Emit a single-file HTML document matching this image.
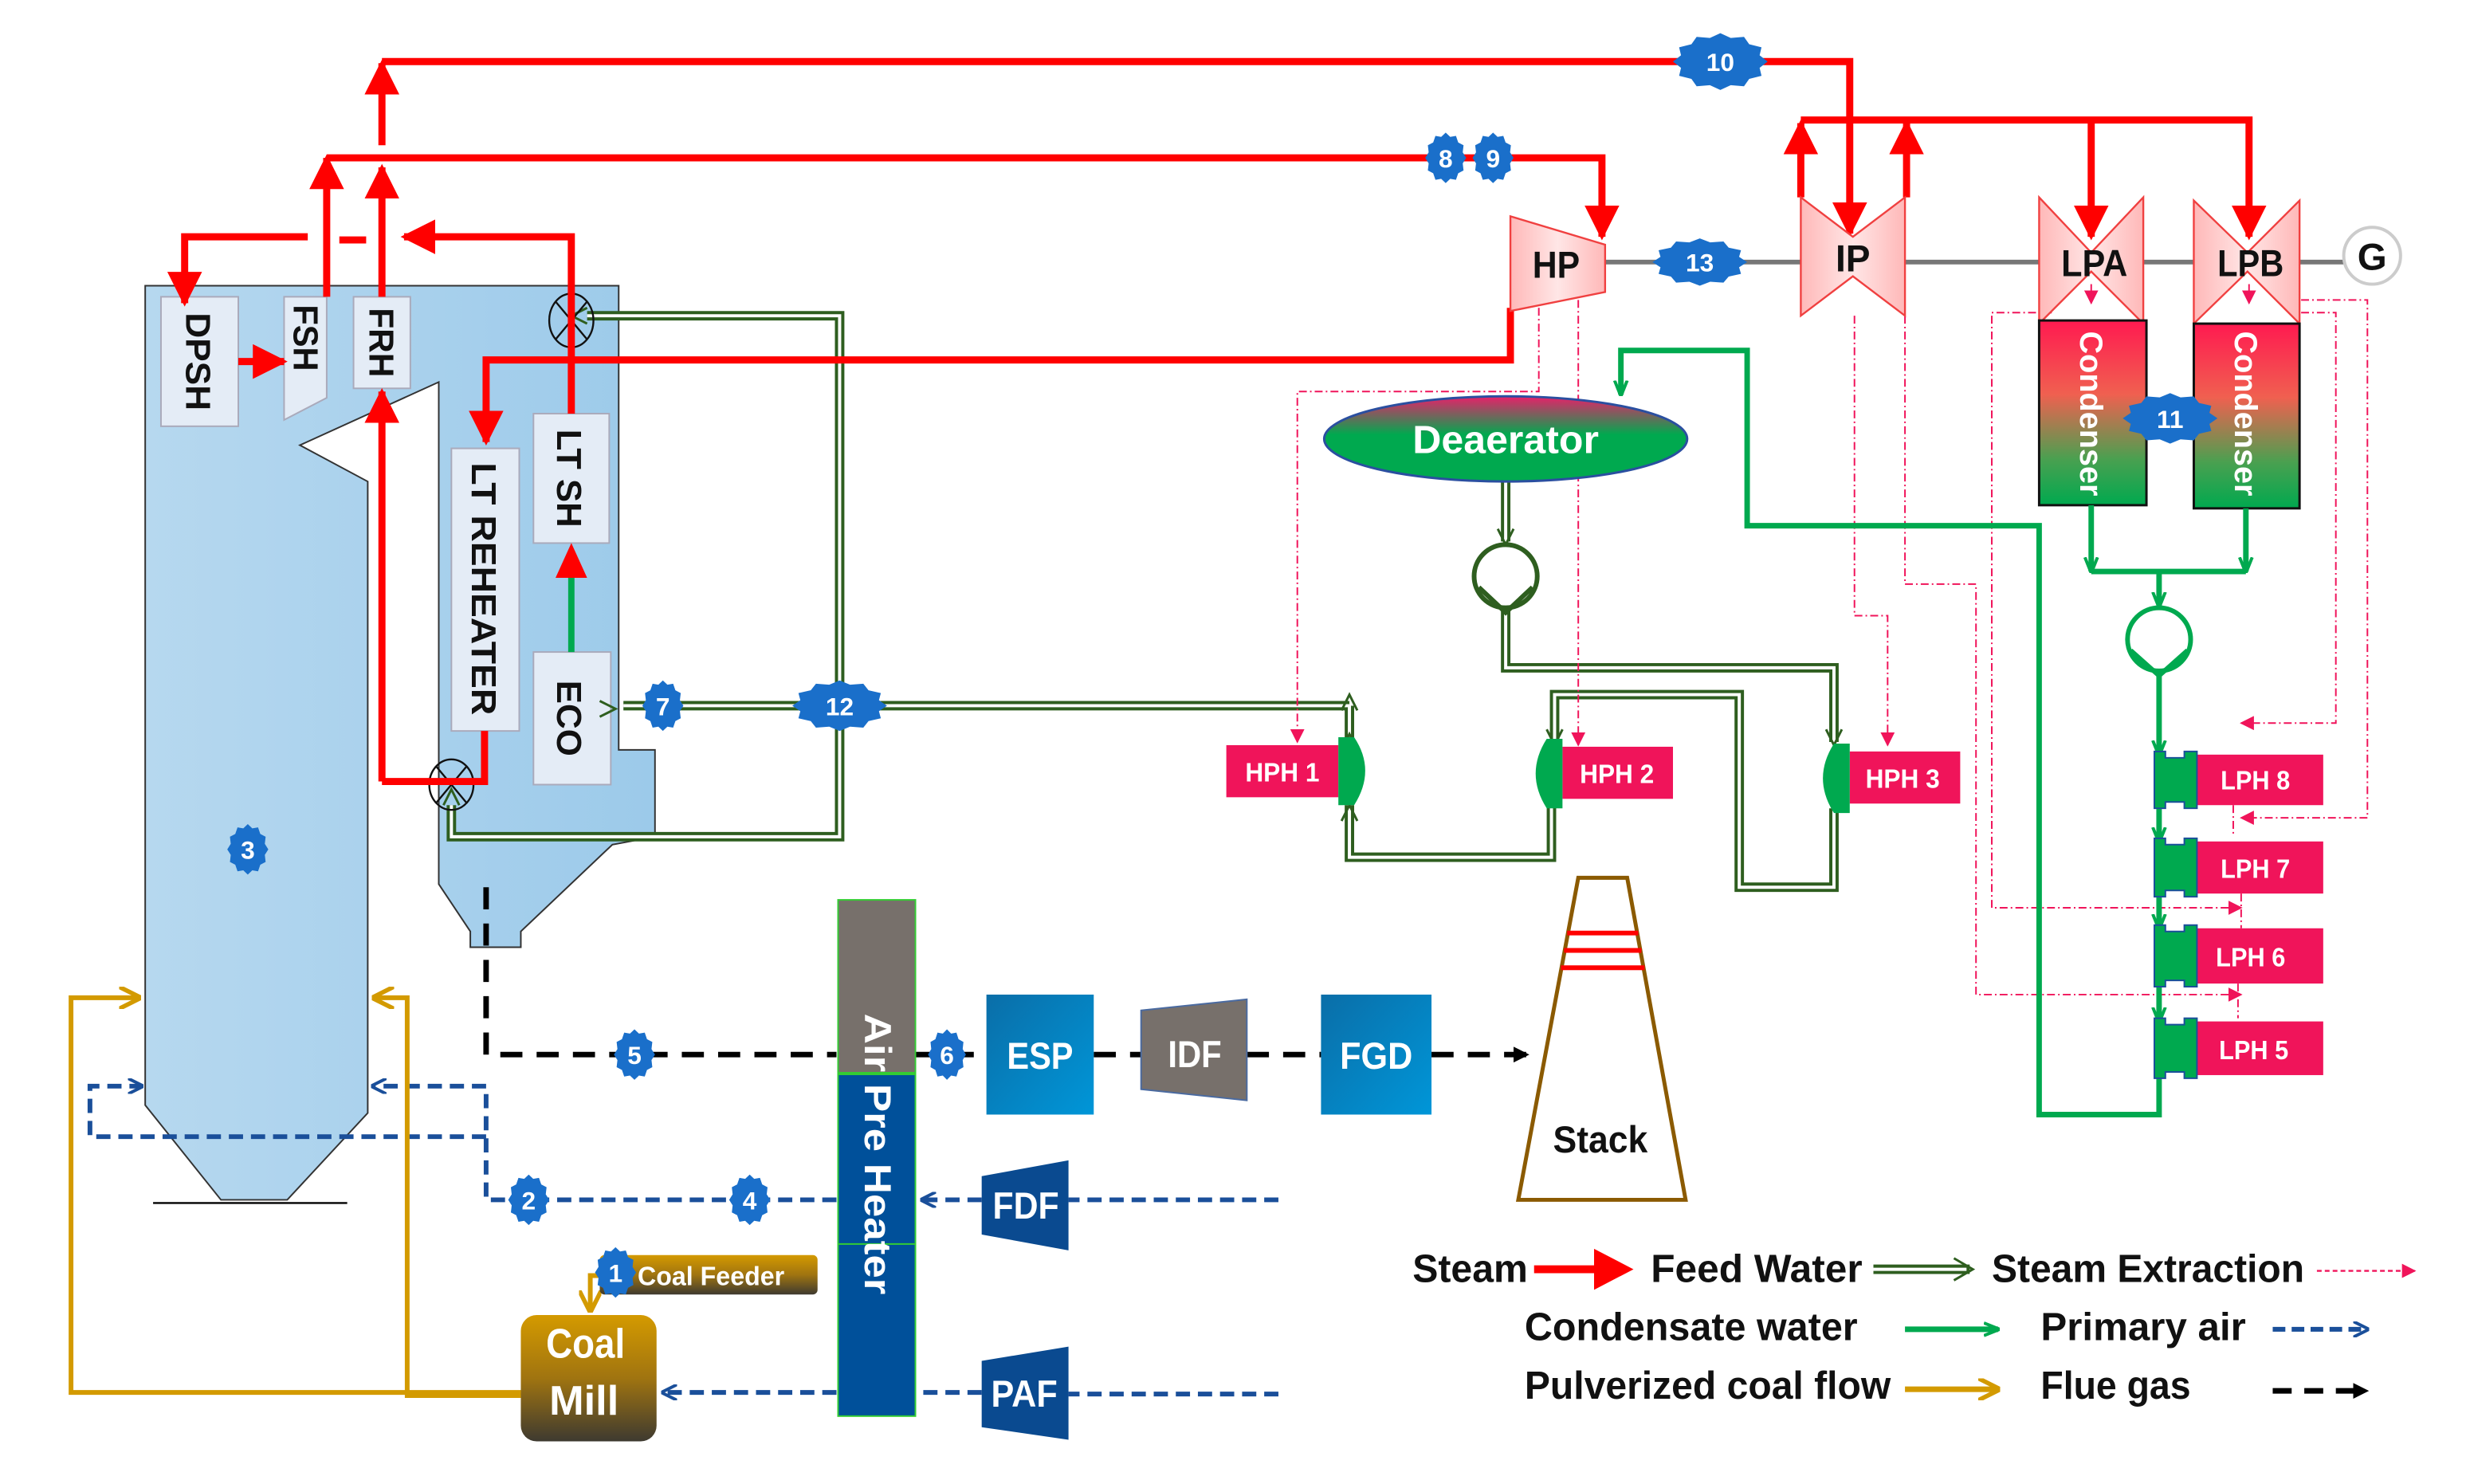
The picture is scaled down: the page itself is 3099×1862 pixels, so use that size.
<!DOCTYPE html>
<html><head><meta charset="utf-8"><style>
html,body{margin:0;padding:0;background:#fff}
svg{display:block}
text{font-family:"Liberation Sans Narrow","Liberation Sans",sans-serif;font-weight:bold}
</style></head><body>
<svg width="3099" height="1862" viewBox="0 0 1565 940" preserveAspectRatio="none" xmlns="http://www.w3.org/2000/svg">
<defs>
<linearGradient id="blue" x1="0" x2="1" y1="0" y2="0"><stop offset="0" stop-color="#b6d8ef"/><stop offset="1" stop-color="#9ccaea"/></linearGradient>
<linearGradient id="cond" x1="0" x2="0" y1="0" y2="1"><stop offset="0" stop-color="#ff1a50"/><stop offset="0.4" stop-color="#f06050"/><stop offset="0.75" stop-color="#4aa050"/><stop offset="1" stop-color="#00a94f"/></linearGradient>
<linearGradient id="dea" x1="0" x2="0" y1="0" y2="1"><stop offset="0" stop-color="#e8206a"/><stop offset="0.45" stop-color="#00a94f"/><stop offset="1" stop-color="#00a94f"/></linearGradient>
<linearGradient id="turb" x1="0" x2="1" y1="0" y2="0"><stop offset="0" stop-color="#ffb8b8"/><stop offset="0.5" stop-color="#ffe6e6"/><stop offset="1" stop-color="#ffb8b8"/></linearGradient>
<linearGradient id="esp" x1="0" x2="1" y1="0" y2="1"><stop offset="0" stop-color="#0a6ea8"/><stop offset="1" stop-color="#0096d8"/></linearGradient>
<linearGradient id="mill" x1="0" x2="0" y1="0" y2="1"><stop offset="0" stop-color="#d49a00"/><stop offset="0.5" stop-color="#a07410"/><stop offset="1" stop-color="#3e3a30"/></linearGradient>
<marker id="ar" viewBox="0 0 10 10" refX="9" refY="5" markerWidth="22" markerHeight="22" markerUnits="userSpaceOnUse" orient="auto"><path d="M0,0 L10,5 L0,10 z" fill="#f00"/></marker>
<marker id="ag" viewBox="0 0 10 10" refX="9" refY="5" markerWidth="10" markerHeight="10" markerUnits="userSpaceOnUse" orient="auto"><path d="M0,1 L10,5 L0,9" fill="none" stroke="#00a94f" stroke-width="2"/></marker>
<marker id="ap" viewBox="0 0 10 10" refX="9" refY="5" markerWidth="9" markerHeight="9" markerUnits="userSpaceOnUse" orient="auto"><path d="M0,0 L10,5 L0,10 z" fill="#f0145a"/></marker>
<marker id="ab" viewBox="0 0 10 10" refX="9" refY="5" markerWidth="10" markerHeight="10" markerUnits="userSpaceOnUse" orient="auto"><path d="M0,0 L10,5 L0,10" fill="none" stroke="#1a4f9a" stroke-width="2"/></marker>
<marker id="ak" viewBox="0 0 10 10" refX="9" refY="5" markerWidth="10" markerHeight="10" markerUnits="userSpaceOnUse" orient="auto"><path d="M0,0 L10,5 L0,10 z" fill="#000"/></marker>
<marker id="ay" viewBox="0 0 10 10" refX="9" refY="5" markerWidth="14" markerHeight="14" markerUnits="userSpaceOnUse" orient="auto"><path d="M0,0 L10,5 L0,10" fill="none" stroke="#d39a00" stroke-width="2"/></marker>
<polygon id="st" points="100,0 83,22 87,50 61,61 50,87 22,83 0,100 -22,83 -50,87 -61,61 -87,50 -83,22 -100,0 -83,-22 -87,-50 -61,-61 -50,-87 -22,-83 0,-100 22,-83 50,-87 61,-61 87,-50 83,-22" fill="#1a6fca"/>
</defs>

<!-- Boiler -->
<path d="M92,181 H392 V475 H415 V530 L388,535 L330,590 V600 H298 V590 L278,560 V242 L190,282 L233,305 V705 L182,760 H140 L92,700 Z" fill="url(#blue)" stroke="#333" stroke-width="1"/>
<line x1="97" y1="762" x2="220" y2="762" stroke="#000" stroke-width="1.2"/>
<g fill="#e4ecf6" stroke="#aab" stroke-width="1">
<rect x="102" y="188" width="49" height="82"/>
<path d="M180,188 H207 V252 L180,266 Z"/>
<rect x="224" y="188" width="36" height="58"/>
<rect x="338" y="262" width="48" height="82"/>
<rect x="286" y="284" width="43" height="179"/>
<rect x="338" y="413" width="49" height="84"/>
</g>
<g font-size="22" fill="#111" lengthAdjust="spacingAndGlyphs">
<text transform="translate(118,229) rotate(90)" text-anchor="middle" textLength="62" lengthAdjust="spacingAndGlyphs">DPSH</text>
<text transform="translate(186,214) rotate(90)" text-anchor="middle" textLength="42" lengthAdjust="spacingAndGlyphs">FSH</text>
<text transform="translate(234,217) rotate(90)" text-anchor="middle" textLength="44" lengthAdjust="spacingAndGlyphs">FRH</text>
<text transform="translate(353,303) rotate(90)" text-anchor="middle" textLength="62" lengthAdjust="spacingAndGlyphs">LT SH</text>
<text transform="translate(299,373) rotate(90)" text-anchor="middle" textLength="160" lengthAdjust="spacingAndGlyphs">LT REHEATER</text>
<text transform="translate(353,455) rotate(90)" text-anchor="middle" textLength="48" lengthAdjust="spacingAndGlyphs">ECO</text>
</g>

<!-- Feed water double lines -->
<g fill="none" stroke-linejoin="miter">
<g stroke="#2e5e1f" stroke-width="6">
<path d="M855,447 H532 V200 H372"/><path d="M532,447 V530 H286 V510"/><path d="M532,447 H395"/>
<path d="M855,447 V470"/><path d="M855,510 V543 H983 V510"/>
<path d="M954,305 V343"/><path d="M954,387 V423 H1162 V470"/>
<path d="M985,470 V440 H1102 V562 H1162 V512"/>
</g>
<g stroke="#fff" stroke-width="2">
<path d="M855,447 H532 V200 H372"/><path d="M532,447 V530 H286 V510"/><path d="M532,447 H395"/>
<path d="M855,447 V470"/><path d="M855,510 V543 H983 V510"/>
<path d="M954,305 V343"/><path d="M954,387 V423 H1162 V470"/>
<path d="M985,470 V440 H1102 V562 H1162 V512"/>
</g>
<g stroke="#2e5e1f" stroke-width="1.5">
<path d="M380,444 L390,449 L380,454"/><path d="M372,195 L362,200 L372,205"/>
<path d="M281,510 L286,500 L291,510"/><path d="M850,450 L855,440 L860,450"/>
<path d="M850,475 L855,465 L860,475"/><path d="M850,520 L855,510 L860,520"/>
<path d="M949,335 L954,345 L959,335"/><path d="M1157,462 L1162,472 L1167,462"/>
<path d="M980,462 L985,472 L990,462"/>
</g>
</g>

<!-- Valves -->
<g fill="none" stroke="#111" stroke-width="1.2">
<ellipse cx="362" cy="203" rx="14" ry="17"/><path d="M352,191 L372,215 M372,191 L352,215"/>
<ellipse cx="286" cy="497" rx="14" ry="16"/><path d="M276,485 L296,509 M296,485 L276,509"/>
</g>

<!-- Steam red lines -->
<g fill="none" stroke="#f00" stroke-width="4.5">
<path d="M151,229 H180" marker-end="url(#ar)"/>
<path d="M207,188 V100" marker-end="url(#ar)"/>
<path d="M207,100 H1015 V150" marker-end="url(#ar)"/>
<path d="M242,188 V106" marker-end="url(#ar)"/>
<path d="M242,92 V40" marker-end="url(#ar)"/>
<path d="M242,39 H1172 V148" marker-end="url(#ar)"/>
<path d="M195,150 H117 V192" marker-end="url(#ar)"/>
<path d="M215,152 H232"/>
<path d="M362,262 V150 H256" marker-end="url(#ar)"/>
<path d="M242,495 V248" marker-end="url(#ar)"/>
<path d="M242,495 H307 V463"/>
<path d="M957,195 V228 H308 V280" marker-end="url(#ar)"/>
<path d="M1141,125 V78" marker-end="url(#ar)"/>
<path d="M1208,125 V78" marker-end="url(#ar)"/>
<path d="M1141,76 H1425 V150" marker-end="url(#ar)"/>
<path d="M1325,76 V150" marker-end="url(#ar)"/>
</g>
<line x1="362" y1="413" x2="362" y2="362" stroke="#00a94f" stroke-width="4"/>
<path d="M352,366 L362,344 L372,366 Z" fill="#f00"/>

<!-- Steam extraction -->
<g fill="none" stroke="#f0145a" stroke-width="1" stroke-dasharray="5,2,1,2">
<path d="M975,195 V248 H822 V470" marker-end="url(#ap)"/>
<path d="M1000,190 V472" marker-end="url(#ap)"/>
<path d="M1175,200 V390 H1196 V472" marker-end="url(#ap)"/>
<path d="M1207,200 V370 H1252 V630 H1420" marker-end="url(#ap)"/>
<path d="M1300,198 H1262 V575 H1420" marker-end="url(#ap)"/>
<path d="M1458,198 H1480 V458 H1420" marker-end="url(#ap)"/>
<path d="M1458,190 H1500 V518 H1420" marker-end="url(#ap)"/>
<path d="M1325,180 V192" marker-end="url(#ap)"/>
<path d="M1425,180 V192" marker-end="url(#ap)"/>
<path d="M1415,510 V530"/><path d="M1420,566 V588"/><path d="M1418,623 V645"/>
</g>

<!-- Shaft & turbines -->
<line x1="1017" y1="166" x2="1490" y2="166" stroke="#777" stroke-width="3"/>
<g fill="url(#turb)" stroke="#f04040" stroke-width="1.2">
<path d="M957,137 L1017,155 V185 L957,197 Z"/>
<path d="M1141,125 L1174,150 L1207,125 V200 L1174,175 L1141,200 Z"/>
<path d="M1292,125 L1325,160 L1358,125 V205 L1325,172 L1292,205 Z"/>
<path d="M1390,127 L1424,160 L1457,127 V205 L1424,172 L1390,205 Z"/>
</g>
<g font-size="24" fill="#111" text-anchor="middle">
<text x="986" y="176" textLength="30" lengthAdjust="spacingAndGlyphs">HP</text><text x="1174" y="172" textLength="22" lengthAdjust="spacingAndGlyphs">IP</text>
<text x="1327" y="175" textLength="42" lengthAdjust="spacingAndGlyphs">LPA</text><text x="1426" y="175" textLength="42" lengthAdjust="spacingAndGlyphs">LPB</text>
</g>
<circle cx="1503" cy="162" r="18" fill="#fff" stroke="#ccc" stroke-width="2"/>
<text x="1503" y="171" font-size="24" text-anchor="middle" fill="#111">G</text>

<!-- Condensers -->
<rect x="1292" y="203" width="68" height="117" fill="url(#cond)" stroke="#111" stroke-width="1.5"/>
<rect x="1390" y="205" width="67" height="117" fill="url(#cond)" stroke="#111" stroke-width="1.5"/>
<g font-size="20" fill="#fff" font-family="Liberation Sans" text-anchor="middle">
<text transform="translate(1318,262) rotate(90)">Condenser</text>
<text transform="translate(1416,262) rotate(90)">Condenser</text>
</g>

<!-- Condensate -->
<g fill="none" stroke="#00a94f" stroke-width="3.5">
<path d="M1325,320 V362" marker-end="url(#ag)"/><path d="M1423,322 V362" marker-end="url(#ag)"/>
<path d="M1325,362 H1423"/><path d="M1368,362 V384" marker-end="url(#ag)"/>
<path d="M1368,426 V478" marker-end="url(#ag)"/>
<path d="M1368,510 V533" marker-end="url(#ag)"/><path d="M1368,566 V588" marker-end="url(#ag)"/><path d="M1368,623 V647" marker-end="url(#ag)"/>
<path d="M1368,681 V706 H1292 V333 H1107 V222 H1027 V250" marker-end="url(#ag)"/>
</g>
<g fill="#fff" stroke="#00a94f" stroke-width="3"><circle cx="1368" cy="405" r="20"/><path d="M1350,412 L1368,428 L1386,412" fill="none"/></g>

<!-- Deaerator -->
<ellipse cx="954" cy="278" rx="115" ry="27" fill="url(#dea)" stroke="#2a4fa0" stroke-width="1.5"/>
<text x="954" y="287" font-size="25" fill="#fff" text-anchor="middle" textLength="118" lengthAdjust="spacingAndGlyphs">Deaerator</text>
<g fill="#fff" stroke="#2e5e1f" stroke-width="3"><circle cx="954" cy="365" r="20"/><path d="M937,372 L954,388 L971,372" fill="none"/></g>

<!-- HPH -->
<g fill="#f0145a">
<rect x="777" y="472" width="71" height="33"/><rect x="990" y="473" width="70" height="33"/><rect x="1172" y="476" width="70" height="33"/>
<rect x="1390" y="478" width="82" height="32"/><rect x="1390" y="533" width="82" height="33"/><rect x="1390" y="588" width="82" height="35"/><rect x="1390" y="647" width="82" height="34"/>
</g>
<g fill="#00a94f">
<path d="M848,467 H858 Q872,488 858,510 H848 Z"/>
<path d="M990,468 H980 Q966,490 980,512 H990 Z"/>
<path d="M1172,471 H1162 Q1148,493 1162,515 H1172 Z"/>
<g stroke="#1a4f9a" stroke-width="1">
<path d="M1365,476 H1372 V480 H1384 V476 H1392 V512 H1384 V508 H1372 V512 H1365 Z"/>
<path d="M1365,531 H1372 V535 H1384 V531 H1392 V568 H1384 V564 H1372 V568 H1365 Z"/>
<path d="M1365,586 H1372 V590 H1384 V586 H1392 V625 H1384 V621 H1372 V625 H1365 Z"/>
<path d="M1365,645 H1372 V649 H1384 V645 H1392 V683 H1384 V679 H1372 V683 H1365 Z"/>
</g>
</g>
<g font-size="17" fill="#fff">
<text x="789" y="495" textLength="47" lengthAdjust="spacingAndGlyphs">HPH 1</text><text x="1001" y="496" textLength="47" lengthAdjust="spacingAndGlyphs">HPH 2</text><text x="1182" y="499" textLength="47" lengthAdjust="spacingAndGlyphs">HPH 3</text>
<text x="1407" y="500" textLength="44" lengthAdjust="spacingAndGlyphs">LPH 8</text><text x="1407" y="556" textLength="44" lengthAdjust="spacingAndGlyphs">LPH 7</text><text x="1404" y="612" textLength="44" lengthAdjust="spacingAndGlyphs">LPH 6</text><text x="1406" y="671" textLength="44" lengthAdjust="spacingAndGlyphs">LPH 5</text>
</g>

<!-- Flue gas -->
<g fill="none" stroke="#000" stroke-width="3.5" stroke-dasharray="14,9">
<path d="M308,562 V668 H530"/><path d="M580,668 H625"/><path d="M693,668 H723"/><path d="M790,668 H837"/>
<path d="M907,668 H968" marker-end="url(#ak)"/>
</g>
<rect x="625" y="630" width="68" height="76" fill="url(#esp)"/>
<path d="M723,640 L790,633 V697 L723,690 Z" fill="#77706b" stroke="#4a6aa0" stroke-width="1"/>
<rect x="837" y="630" width="70" height="76" fill="url(#esp)"/>
<g font-size="24" fill="#fff" text-anchor="middle"><text x="659" y="677" textLength="42" lengthAdjust="spacingAndGlyphs">ESP</text><text x="757" y="676" textLength="34" lengthAdjust="spacingAndGlyphs">IDF</text><text x="872" y="677" textLength="46" lengthAdjust="spacingAndGlyphs">FGD</text></g>

<!-- Stack -->
<path d="M1000,556 H1031 L1068,760 H962 Z" fill="#fff" stroke="#8b5a00" stroke-width="2.5"/>
<g stroke="#f00" stroke-width="3"><line x1="993" y1="591" x2="1038" y2="591"/><line x1="991" y1="602" x2="1040" y2="602"/><line x1="989" y1="613" x2="1042" y2="613"/></g>
<text x="1014" y="730" font-size="24" fill="#111" text-anchor="middle" textLength="60" lengthAdjust="spacingAndGlyphs">Stack</text>

<!-- APH -->
<rect x="531" y="570" width="49" height="110" fill="#77706b"/>
<rect x="531" y="680" width="49" height="217" fill="#00509a"/>
<rect x="531" y="570" width="49" height="327" fill="none" stroke="#3c3" stroke-width="1"/>
<line x1="531" y1="680" x2="580" y2="680" stroke="#3c3" stroke-width="2"/>
<line x1="531" y1="788" x2="580" y2="788" stroke="#3c3" stroke-width="1"/>
<text transform="translate(548,642) rotate(90)" font-size="24" fill="#fff" font-family="Liberation Sans" textLength="178" lengthAdjust="spacingAndGlyphs">Air Pre Heater</text>

<!-- Primary air -->
<g fill="none" stroke="#1a4f9a" stroke-width="3" stroke-dasharray="9,5">
<path d="M810,760 H677"/><path d="M622,760 H584" marker-end="url(#ab)"/>
<path d="M530,760 H308 V688 H236" marker-end="url(#ab)"/>
<path d="M308,720 H57 V688 H90" marker-end="url(#ab)"/>
<path d="M810,883 H677"/><path d="M622,882 H580"/><path d="M530,882 H420" marker-end="url(#ab)"/>
</g>
<path d="M622,745 L677,735 V792 L622,782 Z" fill="#0a4a90"/>
<path d="M622,862 L677,853 V912 L622,904 Z" fill="#0a4a90"/>
<g font-size="24" fill="#fff" text-anchor="middle"><text x="650" y="772" textLength="42" lengthAdjust="spacingAndGlyphs">FDF</text><text x="649" y="891" textLength="42" lengthAdjust="spacingAndGlyphs">PAF</text></g>

<!-- Coal -->
<g fill="none" stroke="#d39a00" stroke-width="3">
<path d="M330,882 H45 V632 H88" marker-end="url(#ay)"/>
<path d="M330,884 H258 V632 H237" marker-end="url(#ay)"/>
<path d="M382,808 H374 V830" marker-end="url(#ay)"/>
</g>
<rect x="380" y="795" width="138" height="25" rx="3" fill="url(#mill)"/>
<text x="404" y="814" font-size="17" fill="#fff" textLength="93" lengthAdjust="spacingAndGlyphs">Coal Feeder</text>
<rect x="330" y="833" width="86" height="80" rx="10" fill="url(#mill)"/>
<g font-size="26" fill="#fff" text-anchor="middle"><text x="371" y="860" textLength="50" lengthAdjust="spacingAndGlyphs">Coal</text><text x="370" y="896" textLength="44" lengthAdjust="spacingAndGlyphs">Mill</text></g>

<!-- Badges -->
<g>
<use href="#st" transform="translate(1090,39) scale(0.3,0.18)"/>
<use href="#st" transform="translate(916,100) scale(0.13,0.16)"/>
<use href="#st" transform="translate(946,100) scale(0.13,0.16)"/>
<use href="#st" transform="translate(1077,166) scale(0.3,0.15)"/>
<use href="#st" transform="translate(1375,265) scale(0.3,0.16)"/>
<use href="#st" transform="translate(532,447) scale(0.3,0.16)"/>
<use href="#st" transform="translate(420,447) scale(0.13,0.16)"/>
<use href="#st" transform="translate(157,538) scale(0.13,0.16)"/>
<use href="#st" transform="translate(402,668) scale(0.13,0.16)"/>
<use href="#st" transform="translate(600,668) scale(0.12,0.16)"/>
<use href="#st" transform="translate(335,760) scale(0.13,0.16)"/>
<use href="#st" transform="translate(475,760) scale(0.13,0.16)"/>
<use href="#st" transform="translate(390,806) scale(0.13,0.16)"/>
</g>
<g font-size="16" fill="#fff" text-anchor="middle">
<text x="1090" y="45">10</text><text x="916" y="106">8</text><text x="946" y="106">9</text>
<text x="1077" y="172">13</text><text x="1375" y="271">11</text><text x="532" y="453">12</text>
<text x="420" y="453">7</text><text x="157" y="544">3</text><text x="402" y="674">5</text>
<text x="600" y="674">6</text><text x="335" y="766">2</text><text x="475" y="766">4</text><text x="390" y="812">1</text>
</g>

<!-- Legend -->
<g font-size="25" fill="#111">
<text x="895" y="812" textLength="73" lengthAdjust="spacingAndGlyphs">Steam</text>
<text x="1046" y="812" textLength="134" lengthAdjust="spacingAndGlyphs">Feed Water</text>
<text x="1262" y="812" textLength="198" lengthAdjust="spacingAndGlyphs">Steam Extraction</text>
<text x="966" y="849" textLength="211" lengthAdjust="spacingAndGlyphs">Condensate water</text>
<text x="1293" y="849" textLength="130" lengthAdjust="spacingAndGlyphs">Primary air</text>
<text x="966" y="886" textLength="232" lengthAdjust="spacingAndGlyphs">Pulverized coal flow</text>
<text x="1293" y="886" textLength="95" lengthAdjust="spacingAndGlyphs">Flue gas</text>
</g>
<path d="M972,804 H1012" stroke="#f00" stroke-width="5"/><path d="M1010,791 L1035,804 L1010,817 Z" fill="#f00"/>
<path d="M1187,804 H1248" stroke="#2e5e1f" stroke-width="6"/><path d="M1187,804 H1246" stroke="#fff" stroke-width="2"/>
<path d="M1238,797 L1250,804 L1238,811" fill="none" stroke="#2e5e1f" stroke-width="1.5"/>
<path d="M1468,805 H1530" stroke="#f0145a" stroke-width="1.2" stroke-dasharray="3,2" marker-end="url(#ap)"/>
<path d="M1207,842 H1266" stroke="#00a94f" stroke-width="3.5" marker-end="url(#ag)"/>
<path d="M1440,842 H1500" stroke="#1a4f9a" stroke-width="3" stroke-dasharray="8,4" marker-end="url(#ab)"/>
<path d="M1207,880 H1266" stroke="#d39a00" stroke-width="3.5" marker-end="url(#ay)"/>
<path d="M1440,881 H1500" stroke="#000" stroke-width="3.5" stroke-dasharray="12,8" marker-end="url(#ak)"/>
</svg>
</body></html>
